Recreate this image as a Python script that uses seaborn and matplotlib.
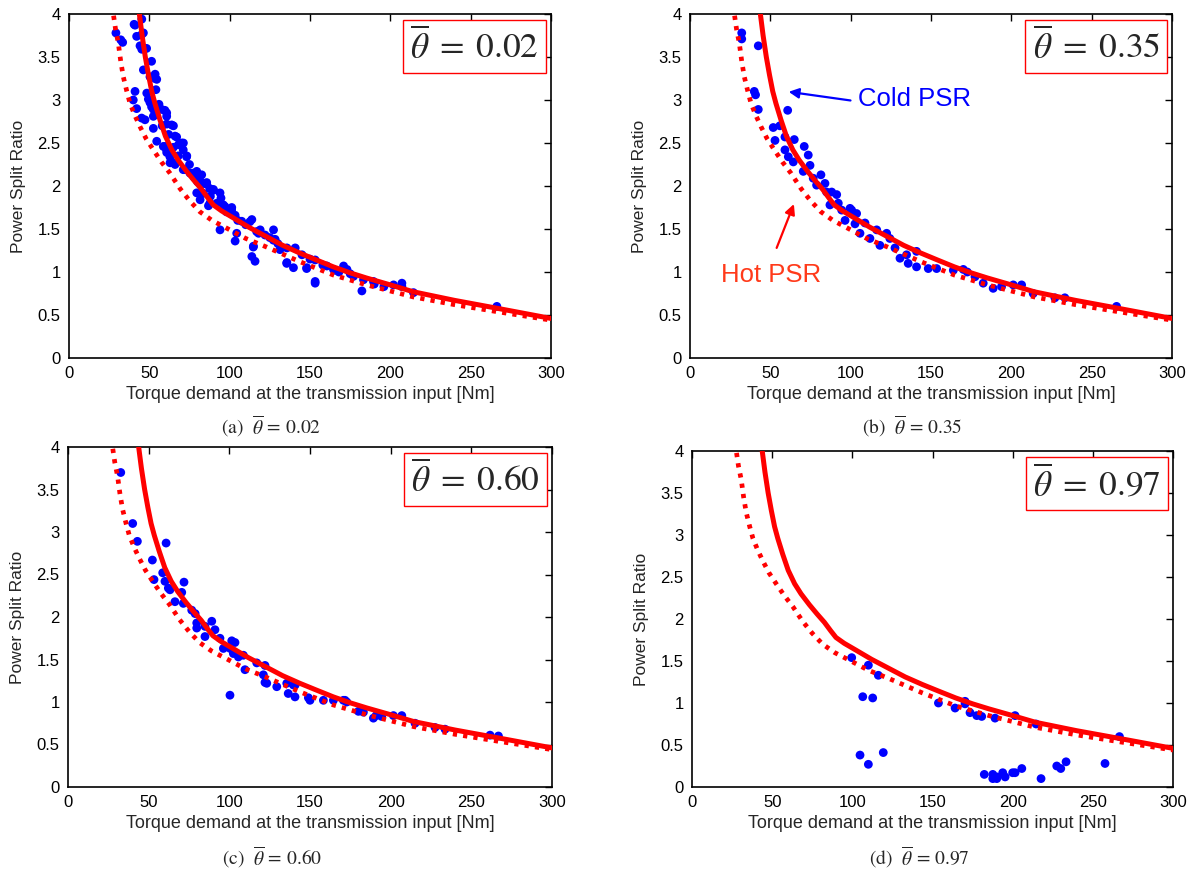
import numpy as np
import pandas as pd
import matplotlib
matplotlib.use("Agg")
import matplotlib.pyplot as plt
import seaborn as sns

# ---------------- data ----------------
cold_x = [42.8, 43.8, 45.5, 47.5, 49.5, 51.5, 53.5, 56.6, 60.0, 64.0, 68.0, 73.2, 78.0, 82.6, 86.5, 89.8,
          95.0, 102.2, 112.0, 123.0, 133.0, 143.7, 154.0, 164.5, 175.0, 185.2, 200.0, 214.3, 240.0, 266.0, 300.0]
cold_y = [4.15, 4.0, 3.75, 3.5, 3.29, 3.1, 2.96, 2.77, 2.58, 2.42, 2.3, 2.17, 2.06, 1.96, 1.86, 1.78,
          1.71, 1.63, 1.52, 1.41, 1.31, 1.22, 1.14, 1.06, 0.99, 0.93, 0.85, 0.77, 0.67, 0.58, 0.46]
hot_x = [27.0, 27.6, 29.0, 30.7, 32.2, 33.8, 36.0, 38.0, 41.0, 44.2, 48.0, 52.5, 57.5, 62.8, 69.1, 75.0, 81.5,
         89.0, 98.1, 110.0, 123.0, 143.7, 164.5, 185.2, 214.3, 240.0, 266.0, 300.0]
hot_y = [4.1, 4.0, 3.82, 3.66, 3.45, 3.27, 3.1, 2.96, 2.82, 2.69, 2.55, 2.42, 2.28, 2.15, 1.97, 1.83, 1.70,
         1.60, 1.51, 1.39, 1.29, 1.12, 0.965, 0.85, 0.71, 0.62, 0.54, 0.44]

a_x = [29.2, 32.2, 33.4, 41.1, 42.1, 45.2, 48.3, 51.4, 46.3, 50.4, 53.5, 54.1, 41.1, 40.0, 42.1, 45.2, 47.3, 52.5,
       51.4, 50.4, 59.7, 60.8, 63.9, 52.5, 54.6, 59.7, 60.8, 62.8, 63.9, 67.0, 70.1, 71.1, 73.2, 71.1, 75.3, 79.5,
       81.5, 83.6, 85.7, 87.7, 40.5, 45.3, 46.3, 44.2, 45.3, 53.6, 54.6, 48.4, 49.4, 52.5, 57.7, 60.8, 60.8, 65.0,
       66.0, 68.1, 71.2, 58.7, 60.8, 62.9, 66.0, 73.3, 72.2, 77.4, 85.7, 79.5, 81.6, 86.8, 89.9, 94.0, 96.1, 94.0,
       101.3, 103.4, 103.4, 107.5, 113.8, 114.8, 113.8, 115.8, 119.0, 127.3, 128.3, 135.6, 140.8, 135.6, 139.7,
       148.0, 153.2, 153.2, 153.2, 160.5, 164.6, 170.9, 173.0, 177.1, 182.3, 183.3, 189.5, 202.0, 207.2, 207.2,
       214.4, 266.3, 82.6, 84.6, 83.6, 89.8, 94.6, 87.7, 97.1, 101.2, 112.6, 104.4, 116.8, 122.0, 127.2, 114.7,
       131.3, 135.5, 147.9, 165.5, 56.0, 58.0, 62.0, 65.0, 68.0, 75.0, 78.0, 80.0, 88.0, 92.0, 98.0, 105.0, 110.0,
       118.0, 125.0, 130.0, 145.0, 150.0, 158.0, 168.0, 175.0, 190.0, 196.0]
a_y = [3.78, 3.70, 3.67, 3.87, 3.74, 3.76, 3.60, 3.45, 3.35, 3.27, 3.25, 3.12, 3.10, 3.00, 2.90, 2.79, 2.77, 2.81,
       2.92, 2.97, 2.88, 2.81, 2.71, 2.67, 2.52, 2.46, 2.42, 2.34, 2.28, 2.57, 2.50, 2.42, 2.34, 2.19, 2.15, 2.17,
       2.11, 2.03, 2.02, 1.97, 3.88, 3.94, 3.78, 3.63, 3.59, 3.30, 3.24, 3.08, 3.01, 2.89, 2.89, 2.85, 2.72, 2.70,
       2.58, 2.48, 2.50, 2.46, 2.39, 2.27, 2.25, 2.35, 2.19, 2.15, 2.04, 1.92, 1.84, 1.77, 1.96, 1.92, 1.78, 1.49,
       1.75, 1.66, 1.36, 1.59, 1.61, 1.30, 1.18, 1.125, 1.49, 1.49, 1.38, 1.28, 1.28, 1.11, 1.05,
       1.05, 1.14, 0.89, 0.87, 1.07, 1.03, 1.07, 1.03, 0.95, 0.78, 0.91, 0.89, 0.85, 0.87, 0.83,
       0.76, 0.60, 2.13, 2.03, 1.915, 1.95, 1.86, 1.80, 1.76, 1.72, 1.585, 1.45, 1.47, 1.43, 1.37, 1.29,
       1.26, 1.10, 1.04, 1.02, 2.95, 2.70, 2.60, 2.45, 2.35, 2.25, 2.10, 2.05, 1.88, 1.80, 1.70, 1.60, 1.55,
       1.45, 1.40, 1.33, 1.20, 1.15, 1.08, 1.00, 0.98, 0.86, 0.83]

b_x = [32.2, 32.2, 42.5, 40.0, 40.8, 42.5, 60.8, 51.8, 55.9, 52.9, 59.1, 59.1, 61.2, 64.3, 64.9, 71.1, 73.6, 70.5,
       74.7, 76.7, 81.5, 78.8, 84.0, 85.0, 88.2, 91.3, 87.1, 92.3, 94.4, 100.6, 103.7, 96.5, 102.7, 108.9, 116.2,
       122.4, 99.6, 105.8, 112.0, 118.2, 124.4, 127.6, 130.7, 134.8, 135.8, 141.0, 141.0, 148.3, 153.5, 163.9,
       170.1, 172.6, 177.4, 182.5, 188.7, 193.9, 201.2, 206.4, 213.6, 227.1, 233.3, 265.5]
b_y = [3.78, 3.71, 3.63, 3.10, 3.06, 2.89, 2.88, 2.68, 2.70, 2.53, 2.57, 2.42, 2.34, 2.28, 2.54, 2.46, 2.36, 2.17,
       2.24, 2.09, 2.13, 2.01, 2.03, 1.93, 1.93, 1.90, 1.78, 1.80, 1.72, 1.72, 1.68, 1.60, 1.56, 1.57, 1.49,
       1.45, 1.74, 1.45, 1.39, 1.31, 1.39, 1.28, 1.16, 1.20, 1.10, 1.24, 1.06, 1.04, 1.04, 1.02,
       1.03, 1.00, 0.945, 0.87, 0.81, 0.83, 0.85, 0.85, 0.75, 0.70, 0.70, 0.60]

c_x = [32.7, 40.1, 43.0, 60.8, 52.3, 58.7, 53.3, 60.1, 62.2, 63.2, 71.9, 70.5, 66.3, 71.5, 76.7, 78.8, 79.8, 79.8,
       84.9, 89.1, 91.1, 84.9, 94.2, 96.3, 101.5, 103.5, 100.5, 102.5, 105.6, 108.7, 109.7, 117.0, 122.1, 121.1,
       122.1, 100.4, 129.4, 135.6, 140.8, 140.7, 150.0, 158.3, 164.5, 171.7, 170.7, 172.8, 180.0, 183.1, 189.3,
       191.0, 194.4, 201.7, 206.9, 215.1, 227.5, 233.7, 261.6, 266.8, 139.7, 136.5, 149.0, 123.2]
c_y = [3.70, 3.10, 2.89, 2.87, 2.67, 2.52, 2.44, 2.42, 2.34, 2.32, 2.41, 2.29, 2.18, 2.16, 2.08, 2.04, 1.93, 1.87,
       1.89, 1.95, 1.85, 1.77, 1.75, 1.63, 1.72, 1.70, 1.63, 1.57, 1.53, 1.55, 1.38, 1.46, 1.43, 1.32,
       1.23, 1.08, 1.18, 1.22, 1.20, 1.06, 1.02, 1.02, 1.02, 1.02, 1.02, 1.00, 0.89, 0.88, 0.81,
       0.84, 0.83, 0.84, 0.84, 0.75, 0.70, 0.68, 0.61, 0.60, 1.20, 1.10, 1.05, 1.22]

d_x = [99.6, 110.0, 116.2, 106.5, 112.7, 104.8, 110.0, 119.3, 153.7, 164.1, 170.3, 170.3, 173.4, 177.6, 180.7,
       189.0, 201.5, 214.6, 266.6, 182.3, 187.6, 187.6, 190.1, 190.1, 193.8, 195.3, 200.0, 201.5, 205.7, 217.7,
       227.5, 230.0, 233.3, 257.6]
d_y = [1.54, 1.45, 1.33, 1.075, 1.06, 0.38, 0.27, 0.41, 1.00, 0.94, 1.02, 0.99, 0.885, 0.85, 0.84,
       0.82, 0.85, 0.75, 0.60, 0.15, 0.15, 0.10, 0.12, 0.10, 0.17, 0.12, 0.17, 0.17, 0.22, 0.10,
       0.25, 0.22, 0.30, 0.28]

thetas = ["0.02", "0.35", "0.60", "0.97"]
letters = ["a", "b", "c", "d"]
xticks = [0, 50, 100, 150, 200, 250, 300]
yticks = [0, 0.5, 1, 1.5, 2, 2.5, 3, 3.5, 4]
ytick_labels = ["0", "0.5", "1", "1.5", "2", "2.5", "3", "3.5", "4"]
xlabel = "Torque demand at the transmission input [Nm]"
ylabel = "Power Split Ratio"

# ---------------- figure ----------------
sns.set_style("white")
plt.rcParams["font.family"] = ["Liberation Sans", "DejaVu Sans"]
plt.rcParams["mathtext.fontset"] = "stix"

fig = plt.figure(figsize=(11.93, 8.69), dpi=100)
W, H = 1193.0, 869.0
boxes = [(69, 14, 551, 358), (690, 14, 1172, 358), (68, 447, 552, 787), (692, 451, 1173, 787)]
captions_pos = [(271, 426), (912, 426), (272, 857), (919, 857)]
scatter_data = [(a_x, a_y), (b_x, b_y), (c_x, c_y), (d_x, d_y)]

cold = pd.DataFrame({"x": cold_x, "y": cold_y})
hot = pd.DataFrame({"x": hot_x, "y": hot_y})

for i, (l, t, r, b) in enumerate(boxes):
    ax = fig.add_axes([l / W, 1 - b / H, (r - l) / W, (b - t) / H])
    sx, sy = scatter_data[i]
    sns.scatterplot(x=sx, y=sy, ax=ax, color="#0000ff", s=40, edgecolor="none", zorder=2)
    sns.lineplot(data=hot, x="x", y="y", ax=ax, color="#ff0000", lw=3.4, sort=False,
                 linestyle=(0, (0.9, 1.3)), zorder=3)
    ax.lines[-1].set_dash_capstyle("butt")
    sns.lineplot(data=cold, x="x", y="y", ax=ax, color="#ff0000", lw=3.6, sort=False, zorder=4)
    ax.lines[-1].set_solid_joinstyle("round")
    ax.set_xlim(0, 300)
    ax.set_ylim(0, 4)
    ax.set_xticks(xticks)
    ax.set_xticklabels([str(v) for v in xticks])
    ax.set_yticks(yticks)
    ax.set_yticklabels(ytick_labels)
    ax.tick_params(direction="in", top=True, right=True, length=5, width=1, labelsize=12, pad=6,
                   colors="black")
    for sp in ax.spines.values():
        sp.set_color("black")
        sp.set_linewidth(1.2)
    ax.set_xlabel(xlabel, fontsize=13, labelpad=3)
    ax.set_ylabel(ylabel, fontsize=12.5, labelpad=8)
    ax.text(0.975, 0.962, r"$\overline{\theta}\;=\;0.%s$" % thetas[i][2:], transform=ax.transAxes,
            ha="right", va="top", fontsize=25.5, zorder=6,
            bbox=dict(boxstyle="square,pad=0.2", fc="white", ec="#ff0000", lw=1.0))
    cx, cy = captions_pos[i]
    fig.text(cx / W, 1 - cy / H, r"(%s)  $\overline{\theta}\,=\,%s$" % (letters[i], thetas[i]),
             ha="center", va="center", fontsize=14, family="STIXGeneral")

    if i == 1:
        ax.annotate("", xy=(59.7, 3.10), xytext=(101.6, 2.99),
                    arrowprops=dict(arrowstyle="-|>", color="#0000ff", lw=1.6, mutation_scale=15))
        ax.text(104.7, 3.01, "Cold PSR", color="#0000ff", fontsize=18.5, ha="left", va="center")
        ax.annotate("", xy=(65.3, 1.82), xytext=(53.3, 1.25),
                    arrowprops=dict(arrowstyle="-|>", color="#ff0000", lw=1.6, mutation_scale=15))
        ax.text(19.1, 0.965, "Hot PSR", color="#ff3a1a", fontsize=18.5, ha="left", va="center")

fig.savefig("out.png", dpi=100)
